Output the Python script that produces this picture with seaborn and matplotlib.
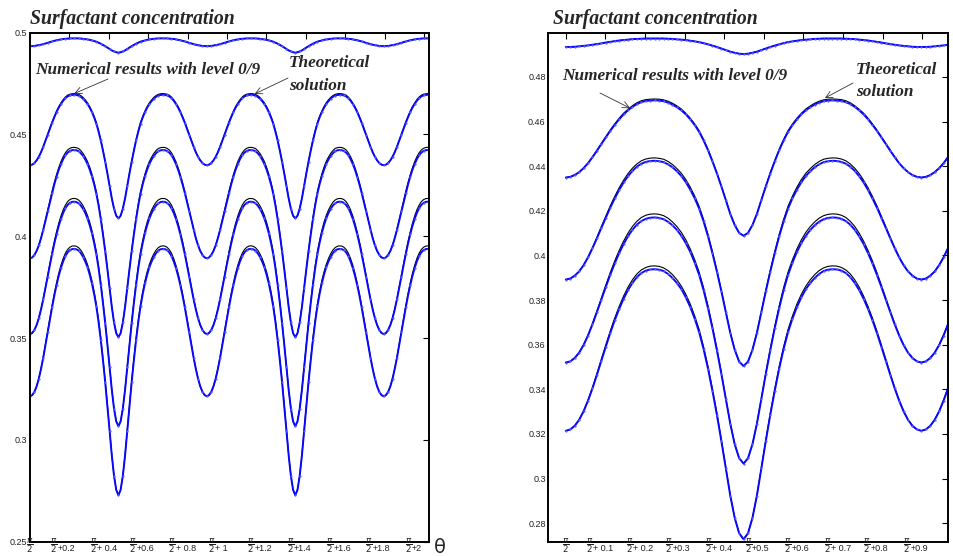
import numpy as np
import pandas as pd
import matplotlib
matplotlib.use("Agg")
import matplotlib.pyplot as plt
import matplotlib.transforms as mtrans
import seaborn as sns

# ---------------- data ----------------
# sample step in theta - pi/2 ; one half period (shallow min -> peak -> deep min) = 40 steps
step = 0.01122
# numerical results (blue), half-period profiles j = 0..40
num_c0 = [0.4934, 0.4934, 0.4935, 0.4937, 0.4939, 0.4941, 0.4944, 0.4947, 0.4950, 0.4954, 0.4957,
          0.4960, 0.4963, 0.4965, 0.4967, 0.4969, 0.4970, 0.4971, 0.4972, 0.4972, 0.4972,
          0.4972, 0.4972, 0.4971, 0.4970, 0.4968, 0.4967, 0.4965, 0.4962, 0.4959, 0.4956,
          0.4951, 0.4946, 0.4940, 0.4934, 0.4927, 0.4920, 0.4913, 0.4908, 0.4904, 0.4902]
num_c1 = [0.4349, 0.4352, 0.4360, 0.4373, 0.4391, 0.4413, 0.4440, 0.4469, 0.4499, 0.4529, 0.4558,
          0.4585, 0.4610, 0.4632, 0.4650, 0.4666, 0.4678, 0.4687, 0.4692, 0.4694, 0.4695,
          0.4694, 0.4691, 0.4685, 0.4676, 0.4664, 0.4650, 0.4632, 0.4610, 0.4584, 0.4554,
          0.4515, 0.4471, 0.4421, 0.4367, 0.4309, 0.4248, 0.4186, 0.4136, 0.4101, 0.4088]
num_c2 = [0.3892, 0.3896, 0.3909, 0.3928, 0.3956, 0.3991, 0.4032, 0.4077, 0.4123, 0.4169, 0.4214,
          0.4255, 0.4293, 0.4327, 0.4355, 0.4379, 0.4398, 0.4411, 0.4419, 0.4423, 0.4424,
          0.4422, 0.4418, 0.4408, 0.4395, 0.4377, 0.4356, 0.4328, 0.4295, 0.4256, 0.4210,
          0.4152, 0.4085, 0.4009, 0.3927, 0.3839, 0.3746, 0.3653, 0.3577, 0.3524, 0.3504]
num_c3 = [0.3520, 0.3525, 0.3540, 0.3564, 0.3598, 0.3641, 0.3691, 0.3746, 0.3802, 0.3859, 0.3913,
          0.3964, 0.4010, 0.4051, 0.4086, 0.4115, 0.4138, 0.4154, 0.4164, 0.4169, 0.4170,
          0.4168, 0.4162, 0.4151, 0.4135, 0.4114, 0.4088, 0.4055, 0.4016, 0.3968, 0.3913,
          0.3844, 0.3763, 0.3673, 0.3574, 0.3469, 0.3357, 0.3246, 0.3154, 0.3091, 0.3067]
num_c4 = [0.3214, 0.3220, 0.3236, 0.3263, 0.3301, 0.3349, 0.3404, 0.3465, 0.3528, 0.3591, 0.3652,
          0.3709, 0.3760, 0.3806, 0.3845, 0.3877, 0.3903, 0.3921, 0.3932, 0.3937, 0.3938,
          0.3936, 0.3930, 0.3917, 0.3899, 0.3876, 0.3849, 0.3812, 0.3769, 0.3717, 0.3656,
          0.3580, 0.3492, 0.3392, 0.3285, 0.3168, 0.3046, 0.2924, 0.2824, 0.2755, 0.2728]
# theoretical solution (black)
th_c0 = list(num_c0)
th_c1 = [0.4349, 0.4352, 0.4360, 0.4373, 0.4391, 0.4414, 0.4442, 0.4471, 0.4502, 0.4532, 0.4562,
         0.4589, 0.4615, 0.4637, 0.4655, 0.4671, 0.4684, 0.4693, 0.4698, 0.4700, 0.4701,
         0.4700, 0.4697, 0.4691, 0.4682, 0.4670, 0.4656, 0.4637, 0.4615, 0.4589, 0.4559,
         0.4519, 0.4475, 0.4424, 0.4370, 0.4311, 0.4250, 0.4187, 0.4137, 0.4101, 0.4088]
th_c2 = [0.3892, 0.3896, 0.3909, 0.3929, 0.3957, 0.3993, 0.4035, 0.4081, 0.4129, 0.4176, 0.4222,
         0.4264, 0.4303, 0.4337, 0.4367, 0.4391, 0.4410, 0.4424, 0.4432, 0.4436, 0.4437,
         0.4435, 0.4431, 0.4421, 0.4407, 0.4389, 0.4368, 0.4340, 0.4306, 0.4266, 0.4220,
         0.4161, 0.4093, 0.4016, 0.3933, 0.3844, 0.3749, 0.3655, 0.3578, 0.3525, 0.3504]
th_c3 = [0.3520, 0.3525, 0.3541, 0.3565, 0.3600, 0.3644, 0.3695, 0.3751, 0.3809, 0.3867, 0.3923,
         0.3975, 0.4022, 0.4064, 0.4100, 0.4130, 0.4153, 0.4170, 0.4180, 0.4185, 0.4186,
         0.4184, 0.4178, 0.4167, 0.4150, 0.4129, 0.4103, 0.4070, 0.4029, 0.3981, 0.3925,
         0.3855, 0.3773, 0.3681, 0.3582, 0.3474, 0.3361, 0.3248, 0.3155, 0.3092, 0.3067]
th_c4 = [0.3214, 0.3220, 0.3237, 0.3264, 0.3303, 0.3352, 0.3408, 0.3470, 0.3535, 0.3599, 0.3661,
         0.3719, 0.3771, 0.3818, 0.3858, 0.3891, 0.3917, 0.3935, 0.3946, 0.3952, 0.3953,
         0.3951, 0.3944, 0.3932, 0.3914, 0.3891, 0.3862, 0.3826, 0.3782, 0.3729, 0.3668,
         0.3590, 0.3501, 0.3401, 0.3292, 0.3174, 0.3050, 0.2926, 0.2825, 0.2755, 0.2728]

left_ticks = [0, 0.2, 0.4, 0.6, 0.8, 1, 1.2, 1.4, 1.6, 1.8, 2]
left_tick_labels = ["", "+0.2", "+ 0.4", "+0.6", "+ 0.8", "+ 1", "+1.2", "+1.4", "+1.6", "+1.8", "+2"]
right_ticks = [0, 0.1, 0.2, 0.3, 0.4, 0.5, 0.6, 0.7, 0.8, 0.9]
right_tick_labels = ["", "+ 0.1", "+ 0.2", "+0.3", "+ 0.4", "+0.5", "+0.6", "+ 0.7", "+0.8", "+0.9"]
left_yticks = [0.25, 0.3, 0.35, 0.4, 0.45, 0.5]
right_yticks = [0.28, 0.3, 0.32, 0.34, 0.36, 0.38, 0.4, 0.42, 0.44, 0.46, 0.48]

num_series = [num_c0, num_c1, num_c2, num_c3, num_c4]
th_series = [th_c0, th_c1, th_c2, th_c3, th_c4]


def periodic(half, n):
    """the profile is mirror-symmetric about every minimum: repeat it n samples long"""
    one = list(half) + list(half[-2::-1])
    out = []
    while len(out) < n:
        out += one if not out else one[1:]
    return out[:n]


def frame(series, n):
    rows = []
    for i, s in enumerate(series):
        for k, v in enumerate(periodic(s, n)):
            rows.append({"theta": k * step, "c": v, "curve": i})
    return pd.DataFrame(rows)


sns.set_theme(style="white")
plt.rcParams["font.family"] = ["Liberation Sans", "DejaVu Sans"]
plt.rcParams["mathtext.fontset"] = "dejavusans"

fig = plt.figure(figsize=(9.54, 5.56), dpi=100)
axL = fig.add_axes([30 / 954, 1 - 541.7 / 556, (429 - 30) / 954, (541.7 - 32.7) / 556])
axR = fig.add_axes([548.5 / 954, 1 - 541.7 / 556, (948.3 - 548.5) / 954, (541.7 - 32.7) / 556])

blue = "#0808ff"
for ax, n, mev in ((axL, 181, 2), (axR, 88, 1)):
    dth = frame(th_series, n)
    dnum = frame(num_series, n)
    for i in range(5):
        sns.lineplot(data=dth[dth.curve == i], x="theta", y="c", ax=ax, color="black",
                     lw=0.8, sort=False, estimator=None, legend=False)
    for i in range(5):
        sns.lineplot(data=dnum[dnum.curve == i], x="theta", y="c", ax=ax, color=blue,
                     lw=1.4, marker=".", markersize=3.2, markeredgewidth=0, markevery=mev,
                     markerfacecolor="#5c5cff", sort=False, estimator=None, legend=False)

axL.set_xlim(0, 2.025)
axL.set_ylim(0.25, 0.5)
axR.set_xlim(-0.0437, 0.9656)
axR.set_ylim(0.2717, 0.4998)

frac = r"$\dfrac{\pi}{2}$"
y_frac_bottom = 1 - 555.4 / 556
y_plus = 1 - 548.5 / 556
for ax, ticks, labs in ((axL, left_ticks, left_tick_labels), (axR, right_ticks, right_tick_labels)):
    ax.set_xticks(ticks)
    ax.set_xticklabels([])
    base = mtrans.blended_transform_factory(ax.transData, fig.transFigure)
    for t, lab in zip(ticks, labs):
        dx = 0 if lab == "" else -15.5
        tr1 = mtrans.offset_copy(base, fig=fig, x=dx, y=0, units="dots")
        fig.text(t, y_frac_bottom, frac, transform=tr1, ha="center", va="bottom",
                 fontsize=6.2, color="#222222")
        if lab:
            tr2 = mtrans.offset_copy(base, fig=fig, x=-12, y=0, units="dots")
            fig.text(t, y_plus, lab, transform=tr2, ha="left", va="center", fontsize=6.5,
                     color="#222222")

axL.set_yticks(left_yticks)
axL.set_yticklabels(["%g" % v for v in left_yticks])
axR.set_yticks(right_yticks)
axR.set_yticklabels(["%g" % v for v in right_yticks])

for ax in (axL, axR):
    ax.set_xlabel("")
    ax.set_ylabel("")
    ax.tick_params(direction="in", length=4, width=0.8, top=True, right=True,
                   labelsize=6.5, pad=2, colors="black", labelcolor="#222222")
    for sp in ax.spines.values():
        sp.set_color("black")
        sp.set_linewidth(1.4)
    ax.grid(False)

fig.text(440 / 954, 1 - 547.5 / 556, "θ", fontsize=14, ha="center", va="center",
         family="DejaVu Sans")

title_font = dict(family="Liberation Serif", weight="bold", style="italic")
fig.text(30 / 954, 1 - 19 / 556, "Surfactant concentration", fontsize=14.2, va="center", **title_font)
fig.text(553 / 954, 1 - 19 / 556, "Surfactant concentration", fontsize=14.2, va="center", **title_font)

ann = dict(fontsize=12.4, va="center", ha="left", **title_font)
fig.text(35 / 954, 1 - 70 / 556, "Numerical results with level 0/9", **ann)
fig.text(289 / 954, 1 - 63 / 556, "Theoretical", **ann)
fig.text(289 / 954, 1 - 86 / 556, "solution", **ann)
fig.text(562 / 954, 1 - 76 / 556, "Numerical results with level 0/9", **ann)
fig.text(856 / 954, 1 - 70 / 556, "Theoretical", **ann)
fig.text(856 / 954, 1 - 92 / 556, "solution", **ann)

arrow = dict(arrowstyle="->", color="#333333", lw=0.6, shrinkA=0, shrinkB=0)
axL.annotate("", xy=(0.2244, 0.4701), xytext=(108 / 954, 1 - 79 / 556),
             textcoords="figure fraction", arrowprops=arrow)
axL.annotate("", xy=(1.14, 0.4699), xytext=(288 / 954, 1 - 78 / 556),
             textcoords="figure fraction", arrowprops=arrow)
axR.annotate("", xy=(0.162, 0.466), xytext=(600 / 954, 1 - 93 / 556),
             textcoords="figure fraction", arrowprops=arrow)
axR.annotate("", xy=(0.654, 0.4705), xytext=(853 / 954, 1 - 83 / 556),
             textcoords="figure fraction", arrowprops=arrow)

fig.savefig("out.png", dpi=100)
